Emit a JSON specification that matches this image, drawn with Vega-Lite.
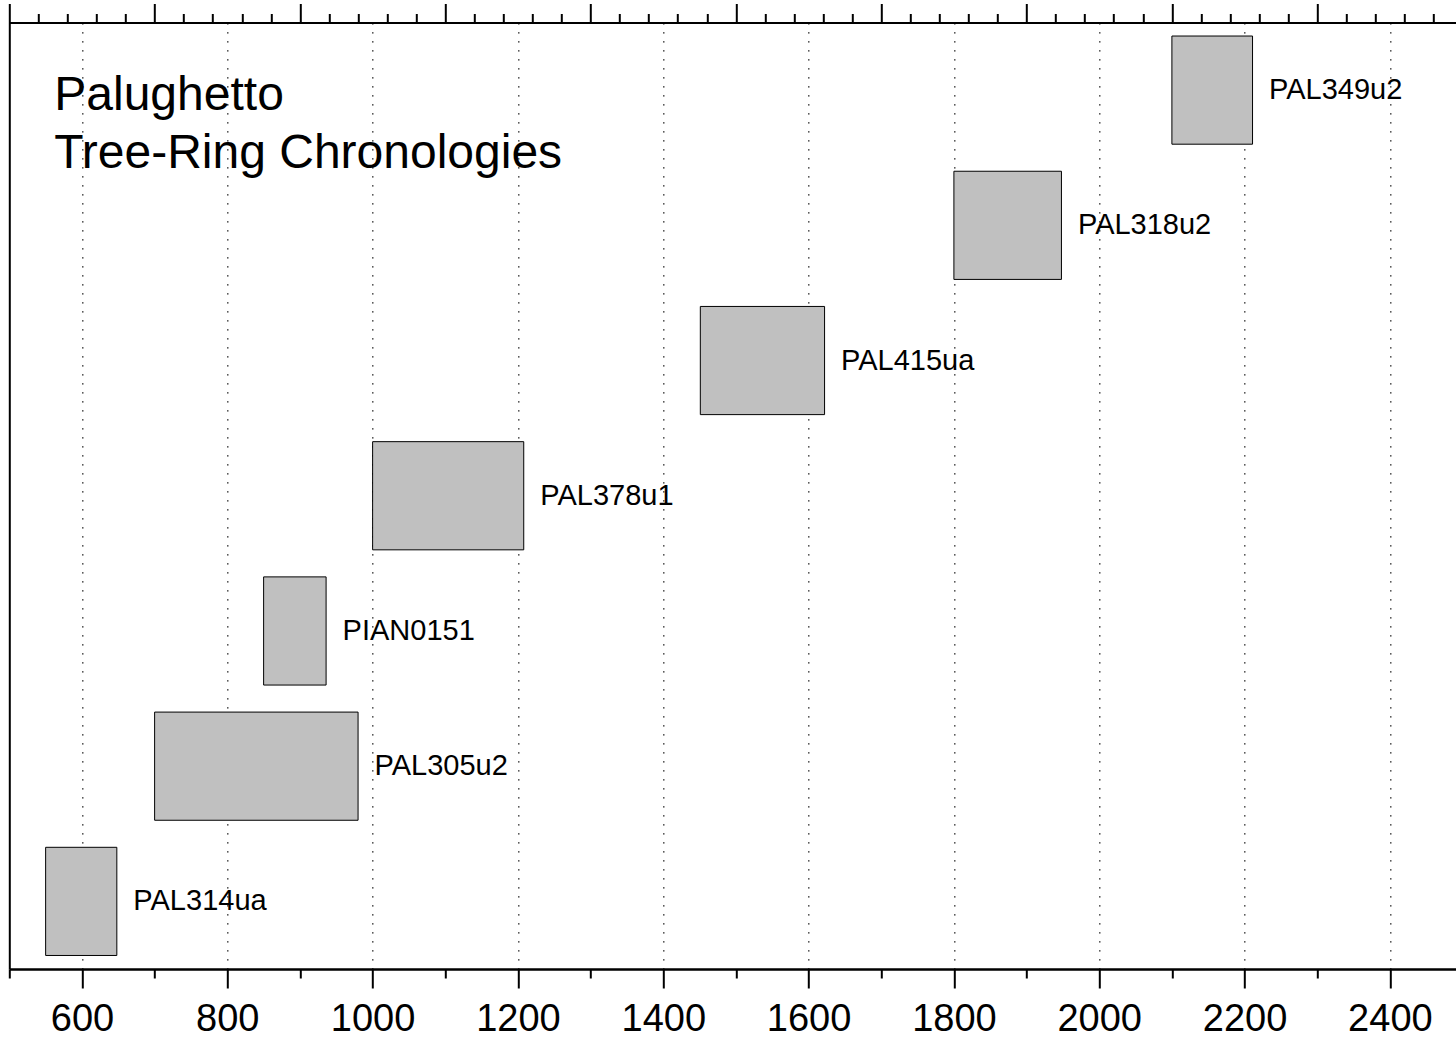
{
  "$schema": "https://vega.github.io/schema/vega-lite/v6.json",
  "autosize": {"type": "none"},
  "padding": {"left": 9.3, "top": 22.5, "right": 0, "bottom": 70},
  "width": 1446.7,
  "height": 946.5,
  "title": {
    "text": ["Palughetto", "Tree-Ring Chronologies"],
    "anchor": "start",
    "frame": "group",
    "orient": "top",
    "offset": 0,
    "fontSize": 48,
    "fontWeight": "normal",
    "font": "Liberation Sans",
    "color": "black",
    "baseline": "alphabetic",
    "lineHeight": 58,
    "dx": 45,
    "dy": 213.5
  },
  "config": {
    "view": {"stroke": null},
    "axis": {
      "domainColor": "black",
      "domainWidth": 2,
      "tickColor": "black",
      "tickWidth": 2,
      "labelFont": "Liberation Sans",
      "labelColor": "black",
      "labelFontSize": 38,
      "title": null
    }
  },
  "data": {
    "values": [
      {"name": "PAL314ua", "start": 550, "end": 648},
      {"name": "PAL305u2", "start": 700, "end": 980},
      {"name": "PIAN0151", "start": 850, "end": 936},
      {"name": "PAL378u1", "start": 1000, "end": 1208},
      {"name": "PAL415ua", "start": 1451, "end": 1622},
      {"name": "PAL318u2", "start": 1800, "end": 1948},
      {"name": "PAL349u2", "start": 2100, "end": 2211}
    ]
  },
  "resolve": {"scale": {"x": "shared"}, "axis": {"x": "independent"}},
  "layer": [
    {
      "mark": {"type": "bar", "fill": "#c0c0c0", "stroke": "black", "strokeWidth": 1},
      "encoding": {
        "x": {
          "field": "start", "type": "quantitative",
          "scale": {"domain": [500, 2491], "nice": false, "zero": false},
          "axis": {
            "orient": "bottom",
            "values": [600, 800, 1000, 1200, 1400, 1600, 1800, 2000, 2200, 2400],
            "format": "d",
            "tickSize": 19,
            "labelPadding": 12,
            "labelFlush": false,
            "labelOverlap": false,
            "grid": true,
            "gridColor": "black",
            "gridDash": [1.3, 7.7],
            "gridWidth": 1.3,
            "gridOpacity": 1
          }
        },
        "x2": {"field": "end"},
        "y": {
          "field": "name", "type": "nominal",
          "sort": ["PAL349u2", "PAL318u2", "PAL415ua", "PAL378u1", "PIAN0151", "PAL305u2", "PAL314ua"],
          "scale": {"paddingInner": 0.2, "paddingOuter": 0.1},
          "axis": {"orient": "left", "ticks": false, "labels": false, "grid": false, "domain": true}
        }
      }
    },
    {
      "mark": {"type": "text", "align": "left", "baseline": "middle", "dx": 16.5, "font": "Liberation Sans", "fontSize": 29, "color": "black"},
      "encoding": {
        "x": {
          "field": "end", "type": "quantitative",
          "axis": {
            "orient": "bottom",
            "values": [500, 700, 900, 1100, 1300, 1500, 1700, 1900, 2100, 2300],
            "tickSize": 9,
            "labels": false,
            "grid": false
          }
        },
        "y": {"field": "name", "type": "nominal", "sort": ["PAL349u2", "PAL318u2", "PAL415ua", "PAL378u1", "PIAN0151", "PAL305u2", "PAL314ua"]},
        "text": {"field": "name"}
      }
    },
    {
      "mark": {"type": "point", "opacity": 0},
      "encoding": {
        "x": {
          "field": "start", "type": "quantitative",
          "axis": {
            "orient": "top",
            "values": [500, 700, 900, 1100, 1300, 1500, 1700, 1900, 2100, 2300],
            "tickSize": 19,
            "labels": false,
            "grid": false
          }
        }
      }
    },
    {
      "mark": {"type": "point", "opacity": 0},
      "encoding": {
        "x": {
          "field": "end", "type": "quantitative",
          "axis": {
            "orient": "top",
            "values": [540, 580, 620, 660, 740, 780, 820, 860, 940, 980, 1020, 1060, 1140, 1180, 1220, 1260, 1340, 1380, 1420, 1460, 1540, 1580, 1620, 1660, 1740, 1780, 1820, 1860, 1940, 1980, 2020, 2060, 2140, 2180, 2220, 2260, 2340, 2380, 2420, 2460],
            "tickSize": 9,
            "labels": false,
            "grid": false
          }
        }
      }
    }
  ]
}
